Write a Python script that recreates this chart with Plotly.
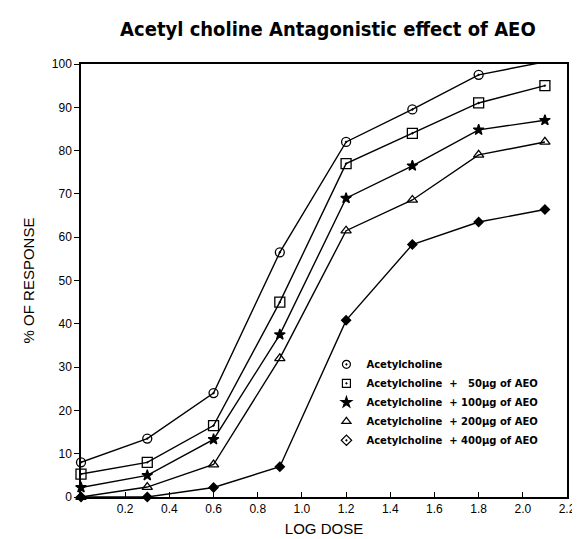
import plotly.graph_objects as go

log_dose = [0, 0.3, 0.6, 0.9, 1.2, 1.5, 1.8, 2.1]
ach = [8, 13.5, 24, 56.5, 82, 89.5, 97.5, 100.5]
ach_50 = [5.3, 8, 16.5, 45, 77, 84, 91, 95]
ach_100 = [2.2, 5, 13.3, 37.5, 69, 76.5, 84.8, 87]
ach_200 = [0, 2.3, 7.5, 32, 61.5, 68.6, 79, 82]
ach_400 = [0, 0, 2.2, 7, 40.8, 58.3, 63.5, 66.4]

series_names = [
    "Acetylcholine",
    "Acetylcholine  +   50\u00b5g of AEO",
    "Acetylcholine  + 100\u00b5g of AEO",
    "Acetylcholine  + 200\u00b5g of AEO",
    "Acetylcholine  + 400\u00b5g of AEO",
]
series_values = [ach, ach_50, ach_100, ach_200, ach_400]
symbols = ["circle-open-dot", "square-open-dot", "star", "triangle-up-open", "diamond"]
legend_symbols = ["circle-open-dot", "square-open-dot", "star", "triangle-up-open", "diamond-open-dot"]
sizes = [9, 10, 8, 9, 7]

x_tickvals = [0.2, 0.4, 0.6, 0.8, 1.0, 1.2, 1.4, 1.6, 1.8, 2.0, 2.2]
y_tickvals = [0, 10, 20, 30, 40, 50, 60, 70, 80, 90, 100]

fig = go.Figure()
for name, vals, sym, sz in zip(series_names, series_values, symbols, sizes):
    fig.add_trace(go.Scatter(
        x=log_dose, y=vals, name=name, mode="lines+markers", showlegend=False,
        line=dict(color="black", width=1.4),
        marker=dict(symbol=sym, size=sz, color="black", line=dict(color="black", width=1.3)),
        cliponaxis=False,
    ))
for name, sym in zip(series_names, legend_symbols):
    fig.add_trace(go.Scatter(
        x=[None], y=[None], name=name, mode="markers",
        marker=dict(symbol=sym, size=8, color="black", line=dict(color="black", width=1.2)),
    ))

fig.update_layout(
    width=580, height=539,
    margin=dict(l=73, r=15, t=56, b=47),
    paper_bgcolor="white", plot_bgcolor="white",
    title=dict(text="Acetyl choline Antagonistic effect of AEO", x=0.508, xanchor="center",
               xref="paper", yref="container", y=0.961, yanchor="middle",
               font=dict(family="DejaVu Sans Condensed", size=20, color="black", weight="bold")),
    font=dict(family="Liberation Sans", color="black"),
    legend=dict(x=0.505, y=0.34, xanchor="left", yanchor="top",
                bgcolor="rgba(0,0,0,0)",
                font=dict(size=10, family="DejaVu Sans", weight="bold"),
                tracegroupgap=0, itemwidth=30),
    xaxis=dict(range=[0, 2.2], tickvals=x_tickvals,
               ticktext=["%.1f" % v for v in x_tickvals],
               ticks="inside", ticklen=5, tickcolor="black",
               showline=True, linecolor="black", linewidth=1.5, mirror=True,
               showgrid=False, zeroline=False,
               tickfont=dict(size=12, color="black"),
               title=dict(text="LOG DOSE", font=dict(size=15, color="black"), standoff=8)),
    yaxis=dict(range=[0, 100], tickvals=y_tickvals,
               ticks="outside", ticklen=5, tickcolor="black",
               showline=True, linecolor="black", linewidth=1.5, mirror=True,
               showgrid=False, zeroline=False,
               tickfont=dict(size=12, color="black"),
               title=dict(text="% OF RESPONSE", font=dict(size=15, color="black"), standoff=14)),
)

fig.write_html("out.html")
